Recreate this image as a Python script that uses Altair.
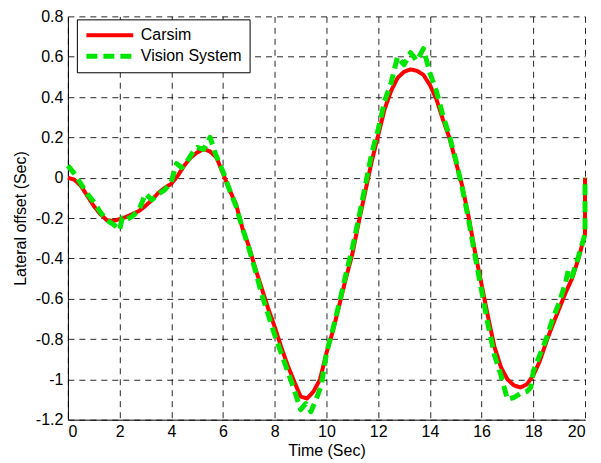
import altair as alt
import pandas as pd

# Carsim (reference) trace
carsim_t = [0.0, 0.25, 0.5, 0.75, 1.0, 1.25, 1.5, 1.75, 2.0, 2.25, 2.5, 2.75, 3.0, 3.25, 3.5, 3.75,
            4.0, 4.25, 4.5, 4.75, 5.0, 5.25, 5.5, 5.75, 6.0, 6.25, 6.5, 6.75, 7.0, 7.25, 7.5, 7.75,
            8.0, 8.25, 8.5, 8.75, 9.0, 9.25, 9.5, 9.75, 10.0, 10.25, 10.5, 10.75, 11.0, 11.25, 11.5,
            11.75, 12.0, 12.25, 12.5, 12.75, 13.0, 13.25, 13.5, 13.75, 14.0, 14.25, 14.5, 14.75, 15.0,
            15.25, 15.5, 15.75, 16.0, 16.25, 16.5, 16.75, 17.0, 17.25, 17.5, 17.75, 18.0, 18.25, 18.5,
            18.75, 19.0, 19.25, 19.5, 19.75, 20.0, 20.0]
carsim_v = [0.00, -0.01, -0.04, -0.09, -0.14, -0.18, -0.21, -0.215, -0.205, -0.195, -0.18, -0.165,
            -0.14, -0.11, -0.075, -0.05, -0.03, 0.01, 0.06, 0.10, 0.125, 0.142, 0.13, 0.10, 0.02,
            -0.06, -0.13, -0.25, -0.34, -0.45, -0.55, -0.65, -0.74, -0.84, -0.93, -1.01, -1.085,
            -1.095, -1.06, -1.0, -0.87, -0.76, -0.63, -0.50, -0.38, -0.22, -0.07, 0.08, 0.21, 0.34,
            0.43, 0.495, 0.525, 0.537, 0.53, 0.51, 0.46, 0.39, 0.29, 0.20, 0.08, -0.04, -0.195,
            -0.37, -0.53, -0.69, -0.84, -0.94, -1.00, -1.03, -1.04, -1.025, -0.98, -0.91, -0.815,
            -0.73, -0.65, -0.57, -0.50, -0.40, -0.28, 0.0]

# Vision System (measured) trace
vision_t = [0.0, 0.25, 0.5, 0.75, 1.0, 1.25, 1.5, 1.75, 2.0, 2.1, 2.25, 2.5, 2.75, 3.0, 3.25, 3.5,
            3.75, 4.0, 4.2, 4.4, 4.6, 4.85, 5.0, 5.25, 5.5, 5.7, 6.0, 6.25, 6.5, 6.75, 7.0, 7.25,
            7.5, 7.75, 8.0, 8.25, 8.5, 8.75, 9.0, 9.2, 9.4, 9.6, 9.8, 10.0, 10.25, 10.5, 10.75,
            11.0, 11.25, 11.5, 11.75, 12.0, 12.25, 12.5, 12.75, 13.0, 13.25, 13.5, 13.75, 14.0,
            14.25, 14.5, 14.75, 15.0, 15.25, 15.5, 15.75, 16.0, 16.25, 16.5, 16.75, 17.0, 17.25,
            17.5, 17.75, 17.9, 18.0, 18.25, 18.5, 18.75, 19.0, 19.25, 19.35, 19.5, 19.75, 20.0, 20.0]
vision_v = [0.06, 0.02, -0.03, -0.08, -0.12, -0.17, -0.21, -0.23, -0.26, -0.20, -0.21, -0.19,
            -0.16, -0.08, -0.11, -0.08, -0.06, -0.02, 0.07, 0.05, 0.08, 0.13, 0.15, 0.14, 0.20,
            0.12, 0.03, -0.06, -0.14, -0.25, -0.35, -0.46, -0.58, -0.68, -0.78, -0.87, -0.96,
            -1.05, -1.15, -1.12, -1.16, -1.10, -1.03, -0.87, -0.75, -0.62, -0.48, -0.35, -0.20,
            -0.04, 0.12, 0.24, 0.38, 0.47, 0.60, 0.56, 0.62, 0.58, 0.64, 0.52, 0.43, 0.31, 0.21,
            0.09, -0.05, -0.21, -0.39, -0.56, -0.73, -0.88, -0.98, -1.10, -1.09, -1.07, -1.06,
            -1.04, -0.96, -0.88, -0.80, -0.70, -0.62, -0.52, -0.46, -0.49, -0.39, -0.28, 0.0]

series_names = ["Carsim", "Vision System"]
x_ticks = [0, 2, 4, 6, 8, 10, 12, 14, 16, 18, 20]
y_ticks = [-1.2, -1.0, -0.8, -0.6, -0.4, -0.2, 0, 0.2, 0.4, 0.6, 0.8]

rows = []
for i, (t, v) in enumerate(zip(carsim_t, carsim_v)):
    rows.append({"t": t, "v": v, "series": series_names[0], "idx": i})
for i, (t, v) in enumerate(zip(vision_t, vision_v)):
    rows.append({"t": t, "v": v, "series": series_names[1], "idx": i})
df = pd.DataFrame(rows)

FONT = "Liberation Sans"

chart = alt.Chart(df).mark_line(strokeCap="butt", strokeJoin="round").encode(
    x=alt.X("t:Q", title="Time (Sec)",
            scale=alt.Scale(domain=[0, 20], nice=False, zero=False),
            axis=alt.Axis(values=x_ticks, labelExpr="'' + datum.value")),
    y=alt.Y("v:Q", title="Lateral offset (Sec)",
            scale=alt.Scale(domain=[-1.2, 0.8], nice=False, zero=False),
            axis=alt.Axis(values=y_ticks, labelExpr="'' + datum.value")),
    color=alt.Color("series:N", title=None,
                    scale=alt.Scale(domain=series_names, range=["#ff0000", "#00e600"])),
    strokeDash=alt.StrokeDash("series:N", title=None,
                              scale=alt.Scale(domain=series_names, range=[[1, 0], [11, 6]])),
    strokeWidth=alt.StrokeWidth("series:N", title=None,
                                scale=alt.Scale(domain=series_names, range=[4, 5])),
    order=alt.Order("idx:Q"),
).properties(
    width=518,
    height=404,
    autosize=alt.AutoSizeParams(type="none"),
    padding={"left": 60, "top": 8, "right": 8, "bottom": 41},
).configure_view(
    strokeWidth=0
).configure_axis(
    labelFont=FONT,
    labelFontSize=16,
    labelColor="#000000",
    titleFont=FONT,
    titleFontSize=16,
    titleFontWeight="normal",
    titleColor="#000000",
    domainColor="#000000",
    domainWidth=1,
    ticks=False,
    grid=True,
    gridColor="#000000",
    gridDash=[6, 5],
    gridWidth=1,
    gridOpacity=0.85,
).configure_axisY(
    titlePadding=7,
    labelPadding=5,
).configure_axisX(
    titlePadding=3,
    labelPadding=4,
).configure_legend(
    orient="none",
    legendX=9,
    legendY=3,
    fillColor="#ffffff",
    strokeColor="#000000",
    strokeWidth=1,
    padding=7,
    labelFont=FONT,
    labelFontSize=16,
    labelColor="#000000",
    symbolType="stroke",
    symbolSize=2200,
    clipHeight=18,
    labelOffset=5,
    rowPadding=3,
    cornerRadius=0,
)

chart.save("out.html", embed_options={"renderer": "svg", "actions": False})
